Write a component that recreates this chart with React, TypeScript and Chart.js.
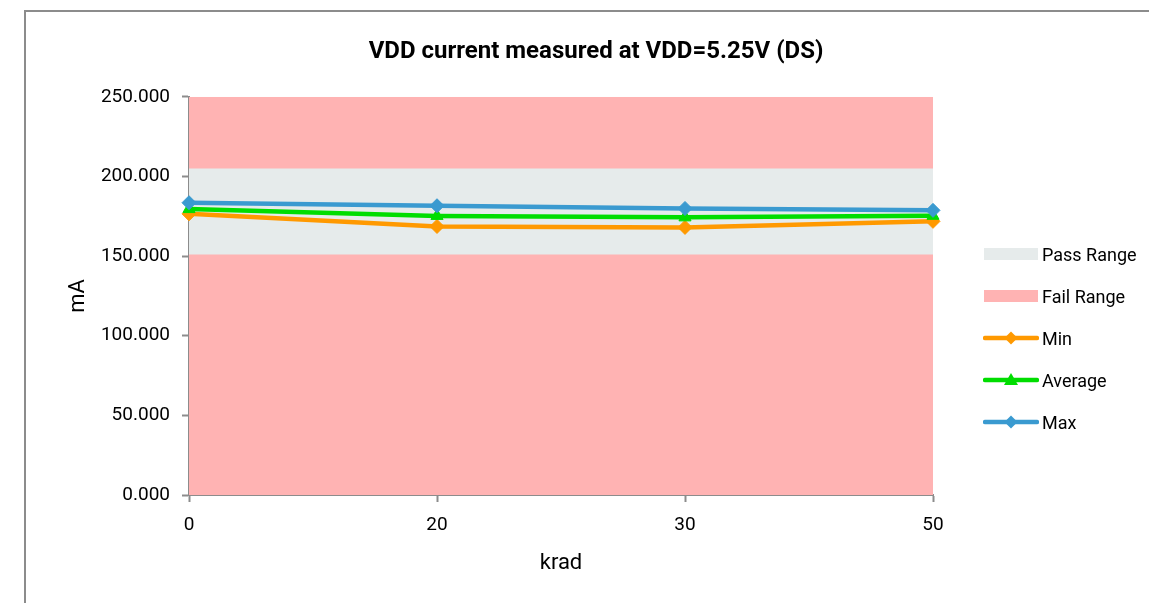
import React, { useEffect, useRef } from "react";
import { Chart, registerables } from "chart.js";

Chart.register(...registerables);

// ---- data ----
const categories = ["0", "20", "30", "50"];
const minValues = [176.5, 168.6, 168.0, 171.8];
const avgValues = [179.5, 175.2, 174.3, 175.3];
const maxValues = [183.5, 181.6, 179.9, 178.7];
const passUpper = [205, 205, 205, 205];
const passLower = 151;
const failUpper = [250, 250, 250, 250];
const yTicks = [0, 50, 100, 150, 200, 250];

const chartTitle = "VDD current measured at VDD=5.25V (DS)";
const xTitle = "krad";
const yTitle = "mA";

const COLORS = {
  pass: "#E6EBEB",
  fail: "#FFB3B3",
  min: "#FF9900",
  avg: "#00DD00",
  max: "#3A9AD0",
  axis: "#8C8C8C",
};

const legendItems = [
  { label: "Pass Range", kind: "rect", color: COLORS.pass },
  { label: "Fail Range", kind: "rect", color: COLORS.fail },
  { label: "Min", kind: "diamond", color: COLORS.min },
  { label: "Average", kind: "triangle", color: COLORS.avg },
  { label: "Max", kind: "diamond", color: COLORS.max },
];

const FONT = "Roboto";

function Swatch({ kind, color }: { kind: string; color: string }) {
  return (
    <svg width={56} height={16} style={{ display: "block" }}>
      {kind === "rect" && <rect x={1} y={2} width={54} height={12} fill={color} />}
      {kind !== "rect" && (
        <line x1={2} y1={8} x2={54} y2={8} stroke={color} strokeWidth={4.5} strokeLinecap="round" />
      )}
      {kind === "diamond" && <polygon points="28,1.5 34.5,8 28,14.5 21.5,8" fill={color} />}
      {kind === "triangle" && <polygon points="28,1 35,13 21,13" fill={color} />}
    </svg>
  );
}

export default function App() {
  const ref = useRef<HTMLCanvasElement | null>(null);

  useEffect(() => {
    if (!ref.current) return;
    const lineCommon = {
      borderWidth: 4.5,
      pointBorderWidth: 1,
      tension: 0,
      clip: false as const,
      fill: false,
    };
    const chart = new Chart(ref.current, {
      type: "line",
      data: {
        labels: categories,
        datasets: [
          {
            label: "Max",
            data: maxValues,
            borderColor: COLORS.max,
            backgroundColor: COLORS.max,
            pointStyle: "rectRot",
            pointRadius: 7,
            order: 1,
            ...lineCommon,
          },
          {
            label: "Average",
            data: avgValues,
            borderColor: COLORS.avg,
            backgroundColor: COLORS.avg,
            pointStyle: "triangle",
            pointRadius: 7,
            order: 2,
            ...lineCommon,
          },
          {
            label: "Min",
            data: minValues,
            borderColor: COLORS.min,
            backgroundColor: COLORS.min,
            pointStyle: "rectRot",
            pointRadius: 7,
            order: 3,
            ...lineCommon,
          },
          {
            label: "Pass Range",
            data: passUpper,
            borderWidth: 0,
            borderColor: "rgba(0,0,0,0)",
            backgroundColor: COLORS.pass,
            pointRadius: 0,
            fill: { value: passLower },
            order: 4,
          },
          {
            label: "Fail Range",
            data: failUpper,
            borderWidth: 0,
            borderColor: "rgba(0,0,0,0)",
            backgroundColor: COLORS.fail,
            pointRadius: 0,
            fill: "origin",
            order: 5,
          },
        ],
      },
      options: {
        responsive: false,
        animation: false,
        layout: { padding: 0 },
        plugins: {
          legend: { display: false },
          tooltip: { enabled: false },
          title: {
            display: true,
            text: chartTitle,
            color: "#000",
            font: { family: FONT, size: 24, weight: "bold" },
            padding: { top: 38, bottom: 30 },
          },
        },
        scales: {
          x: {
            type: "category",
            offset: false,
            grid: {
              display: true,
              drawOnChartArea: false,
              offset: false,
              tickLength: 7,
              tickColor: COLORS.axis,
              tickWidth: 2,
            },
            border: { display: true, color: COLORS.axis, width: 2 },
            ticks: {
              color: "#000",
              font: { family: FONT, size: 19 },
              padding: 12,
              maxRotation: 0,
            },
            title: {
              display: true,
              text: xTitle,
              color: "#000",
              font: { family: FONT, size: 22 },
              padding: { top: 0, bottom: 26 },
            },
            afterFit: (s: any) => {
              s.height = 108;
            },
          },
          y: {
            type: "linear",
            min: yTicks[0],
            max: yTicks[yTicks.length - 1],
            grid: {
              display: true,
              drawOnChartArea: false,
              tickLength: 7,
              tickColor: COLORS.axis,
              tickWidth: 2,
            },
            border: { display: true, color: COLORS.axis, width: 2 },
            ticks: {
              stepSize: yTicks[1] - yTicks[0],
              color: "#000",
              font: { family: FONT, size: 19 },
              padding: 12,
              callback: (v: any) => Number(v).toFixed(3),
            },
            title: {
              display: true,
              text: yTitle,
              color: "#000",
              font: { family: FONT, size: 22 },
              padding: { top: 65, bottom: 0 },
            },
            afterFit: (s: any) => {
              s.width = 189;
            },
          },
          spacer: {
            type: "linear",
            position: "right",
            display: true,
            grid: { display: false, drawTicks: false },
            border: { display: false },
            ticks: { display: false },
            afterFit: (s: any) => {
              s.width = 1192 - 933;
            },
          },
        },
      } as any,
    });
    return () => chart.destroy();
  }, []);

  return (
    <div
      style={{
        position: "fixed",
        left: 0,
        top: 0,
        width: 1149,
        height: 603,
        overflow: "hidden",
        background: "#fff",
      }}
    >
      <div
        style={{
          position: "absolute",
          left: 24,
          top: 10,
          width: 1300,
          height: 800,
          border: `2px solid ${COLORS.axis}`,
          boxSizing: "border-box",
        }}
      />
      <canvas
        ref={ref}
        width={1192}
        height={603}
        style={{ position: "absolute", left: 0, top: 0, width: 1192, height: 603 }}
      />
      <div style={{ position: "absolute", left: 983, top: 0 }}>
        {legendItems.map((it, i) => (
          <div
            key={it.label}
            style={{
              position: "absolute",
              left: 0,
              top: 254 + i * 42 - 11,
              height: 22,
              display: "flex",
              alignItems: "center",
              whiteSpace: "nowrap",
              fontFamily: FONT,
              fontSize: 18,
              color: "#000",
            }}
          >
            <Swatch kind={it.kind} color={it.color} />
            <span style={{ marginLeft: 3 }}>{it.label}</span>
          </div>
        ))}
      </div>
    </div>
  );
}
